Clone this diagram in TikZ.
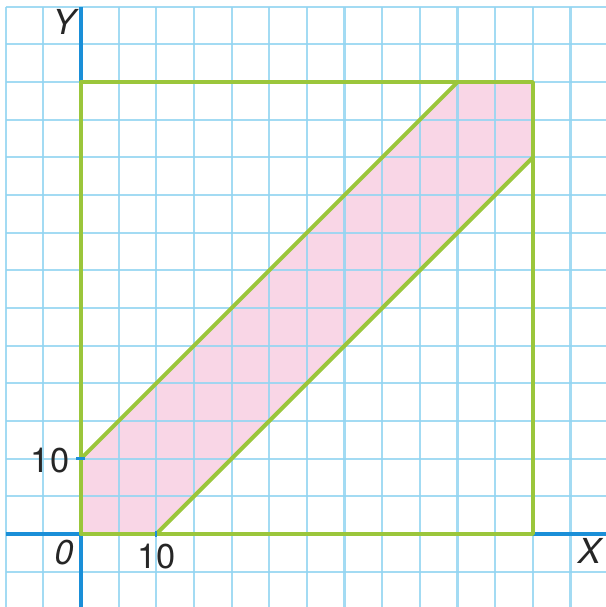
\documentclass[tikz,border=0pt]{standalone}
\usepackage{fontspec}
\setmainfont{TeX Gyre Heros}
\definecolor{gridblue}{HTML}{93D5F2}
\definecolor{axisblue}{HTML}{1A8FD8}
\definecolor{bandgreen}{HTML}{9BC63B}
\definecolor{bandpink}{HTML}{F9D6E6}
\tikzset{
  gridline/.style={draw=gridblue, line width=1.6pt},
  axisline/.style={draw=axisblue, line width=2.6pt},
  boundary/.style={draw=bandgreen, line width=3pt, line join=round},
  lbl/.style={font=\fontsize{26}{28}\selectfont, text=black!85, inner sep=0pt}
}
\begin{document}
\begin{tikzpicture}
\useasboundingbox (-2.15,-1.94) rectangle (13.94,14.18);
\fill[white] (-2.15,-1.94) rectangle (13.94,14.18);
% corner points
\coordinate (O) at (0,0);
\coordinate (A) at (2,0);
\coordinate (B) at (12,10);
\coordinate (C) at (12,12);
\coordinate (D) at (10,12);
\coordinate (E) at (0,2);
\coordinate (F) at (12,0);
\coordinate (G) at (0,12);
% band
\fill[bandpink] (O) -- (A) -- (B) -- (C) -- (D) -- (E) -- cycle;
% grid
\foreach \i in {-2,...,13} \draw[gridline, draw opacity=0.85] (\i,-1.94) -- (\i,14);
\foreach \j in {-1,...,14} \draw[gridline, draw opacity=0.85] (-2,\j) -- (13.94,\j);
% axes
\draw[axisline] (-2,0) -- (13.94,0);
\draw[axisline] (0,-1.94) -- (0,14);
% square and band lines
\draw[boundary] (O) -- (F) -- (C) -- (G) -- cycle;
\draw[boundary] (A) -- (B);
\draw[boundary] (E) -- (D);
% ticks
\draw[axisline, line width=1.8pt] (A) ++(0,-0.08) -- ++(0,0.16);
\draw[axisline, line width=1.8pt] (E) ++(-0.12,0) -- ++(0.24,0);
% labels
\node[lbl, font=\fontsize{26}{28}\selectfont\itshape] (ylab) at (-0.45,13.6) {Y};
\node[lbl, font=\fontsize{26}{28}\selectfont\itshape] (xlab) at (13.5,-0.45) {X};
\node[lbl, font=\fontsize{26}{28}\selectfont\itshape] (olab) at (-0.45,-0.5) {0};
\node[lbl] (xten) at (2.0,-0.6) {10};
\node[lbl] (yten) at (-0.82,1.95) {10};
\end{tikzpicture}
\end{document}
